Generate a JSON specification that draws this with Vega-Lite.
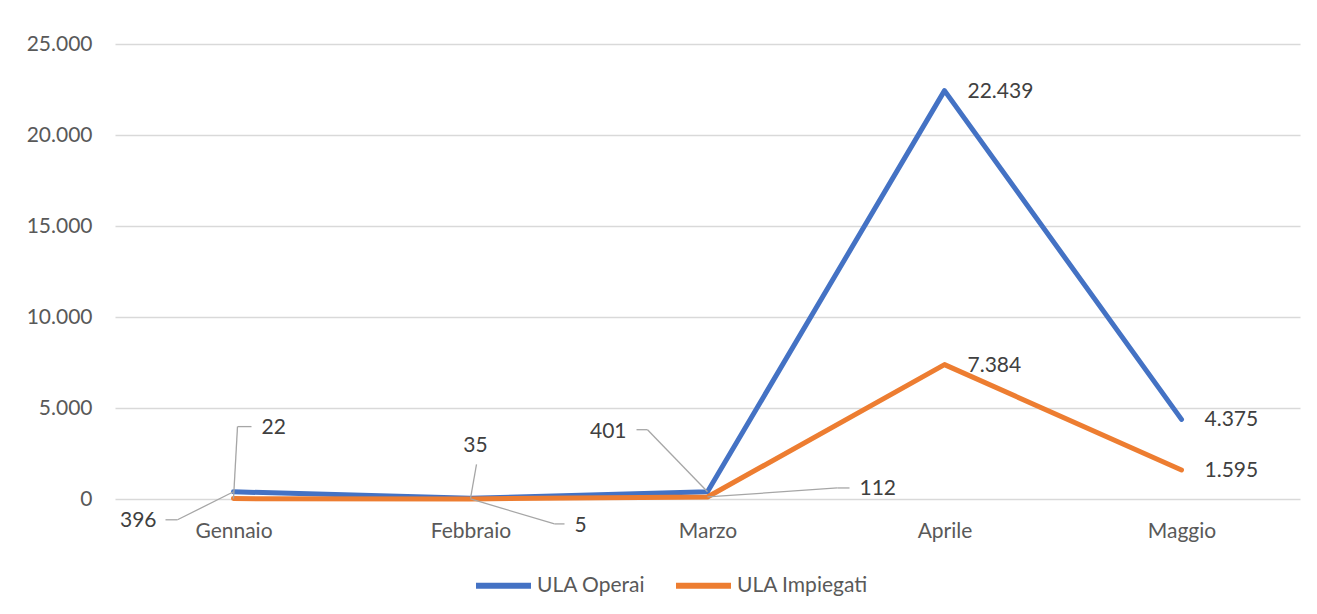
{
  "$schema": "https://vega.github.io/schema/vega-lite/v6.json",
  "width": 1185,
  "height": 455,
  "autosize": {"type": "none"},
  "padding": {"left": 115, "top": 44, "right": 17, "bottom": 115},
  "background": "white",
  "data": {"values": [
    {"mese": "Gennaio", "serie": "ULA Operai", "valore": 396},
    {"mese": "Febbraio", "serie": "ULA Operai", "valore": 35},
    {"mese": "Marzo", "serie": "ULA Operai", "valore": 401},
    {"mese": "Aprile", "serie": "ULA Operai", "valore": 22439},
    {"mese": "Maggio", "serie": "ULA Operai", "valore": 4375},
    {"mese": "Gennaio", "serie": "ULA Impiegati", "valore": 22},
    {"mese": "Febbraio", "serie": "ULA Impiegati", "valore": 5},
    {"mese": "Marzo", "serie": "ULA Impiegati", "valore": 112},
    {"mese": "Aprile", "serie": "ULA Impiegati", "valore": 7384},
    {"mese": "Maggio", "serie": "ULA Impiegati", "valore": 1595}
  ]},
  "encoding": {
    "x": {"field": "mese", "type": "ordinal", "sort": ["Gennaio", "Febbraio", "Marzo", "Aprile", "Maggio"],
      "scale": {"type": "point", "padding": 0.5},
      "axis": {"title": null, "domain": false, "ticks": false, "grid": false, "labelPadding": 21, "labelAngle": 0}},
    "y": {"field": "valore", "type": "quantitative",
      "scale": {"domain": [0, 25000], "nice": false},
      "axis": {"title": null, "values": [0, 5000, 10000, 15000, 20000, 25000], "format": ",d", "domain": false, "ticks": false, "labelPadding": 23, "gridColor": "#d9d9d9", "gridWidth": 1.3}}
  },
  "layer": [
    {
      "mark": {"type": "line", "strokeWidth": 5, "strokeCap": "round", "strokeJoin": "round"},
      "encoding": {
        "color": {"field": "serie", "type": "nominal",
          "scale": {"domain": ["ULA Operai", "ULA Impiegati"], "range": ["#4472C4", "#ED7D31"]},
          "legend": {"title": null, "orient": "none", "direction": "horizontal", "legendX": 358, "legendY": 511,
            "symbolType": "stroke", "symbolSize": 3025, "symbolStrokeWidth": 6, "labelOffset": 3, "columnPadding": 18}}
      }
    },
    {
      "transform": [{"filter": "datum.mese == 'Aprile' || datum.mese == 'Maggio'"}],
      "mark": {"type": "text", "align": "left", "baseline": "middle", "dx": 23, "dy": 1},
      "encoding": {"text": {"field": "valore", "type": "quantitative", "format": ",d"}}
    },
    {
      "transform": [{"filter": "datum.mese == 'Gennaio' && datum.serie == 'ULA Operai'"}],
      "mark": {"type": "text", "align": "right", "baseline": "middle", "dx": -77, "dy": 29},
      "encoding": {"text": {"field": "valore", "type": "quantitative", "format": ",d"}}
    },
    {
      "transform": [{"filter": "datum.mese == 'Gennaio' && datum.serie == 'ULA Operai'"}],
      "mark": {"type": "rule", "color": "#a6a6a6", "strokeWidth": 1.3, "xOffset": 0, "yOffset": 0, "x2Offset": -56, "y2Offset": 28},
      "encoding": {"x2": {"field": "mese"}, "y2": {"field": "valore"}}
    },
    {
      "transform": [{"filter": "datum.mese == 'Gennaio' && datum.serie == 'ULA Operai'"}],
      "mark": {"type": "rule", "color": "#a6a6a6", "strokeWidth": 1.3, "xOffset": -56, "yOffset": 28, "x2Offset": -68, "y2Offset": 28},
      "encoding": {"x2": {"field": "mese"}, "y2": {"field": "valore"}}
    },
    {
      "transform": [{"filter": "datum.mese == 'Gennaio' && datum.serie == 'ULA Impiegati'"}],
      "mark": {"type": "text", "align": "left", "baseline": "middle", "dx": 28, "dy": -71},
      "encoding": {"text": {"field": "valore", "type": "quantitative", "format": ",d"}}
    },
    {
      "transform": [{"filter": "datum.mese == 'Gennaio' && datum.serie == 'ULA Impiegati'"}],
      "mark": {"type": "rule", "color": "#a6a6a6", "strokeWidth": 1.3, "xOffset": 0, "yOffset": 0, "x2Offset": 4, "y2Offset": -72},
      "encoding": {"x2": {"field": "mese"}, "y2": {"field": "valore"}}
    },
    {
      "transform": [{"filter": "datum.mese == 'Gennaio' && datum.serie == 'ULA Impiegati'"}],
      "mark": {"type": "rule", "color": "#a6a6a6", "strokeWidth": 1.3, "xOffset": 4, "yOffset": -72, "x2Offset": 18, "y2Offset": -72},
      "encoding": {"x2": {"field": "mese"}, "y2": {"field": "valore"}}
    },
    {
      "transform": [{"filter": "datum.mese == 'Febbraio' && datum.serie == 'ULA Operai'"}],
      "mark": {"type": "text", "align": "center", "baseline": "middle", "dx": 5, "dy": -52},
      "encoding": {"text": {"field": "valore", "type": "quantitative", "format": ",d"}}
    },
    {
      "transform": [{"filter": "datum.mese == 'Febbraio' && datum.serie == 'ULA Operai'"}],
      "mark": {"type": "rule", "color": "#a6a6a6", "strokeWidth": 1.3, "xOffset": 0, "yOffset": 0, "x2Offset": 6, "y2Offset": -34},
      "encoding": {"x2": {"field": "mese"}, "y2": {"field": "valore"}}
    },
    {
      "transform": [{"filter": "datum.mese == 'Febbraio' && datum.serie == 'ULA Impiegati'"}],
      "mark": {"type": "text", "align": "left", "baseline": "middle", "dx": 104, "dy": 27},
      "encoding": {"text": {"field": "valore", "type": "quantitative", "format": ",d"}}
    },
    {
      "transform": [{"filter": "datum.mese == 'Febbraio' && datum.serie == 'ULA Impiegati'"}],
      "mark": {"type": "rule", "color": "#a6a6a6", "strokeWidth": 1.3, "xOffset": 0, "yOffset": 0, "x2Offset": 84, "y2Offset": 25},
      "encoding": {"x2": {"field": "mese"}, "y2": {"field": "valore"}}
    },
    {
      "transform": [{"filter": "datum.mese == 'Febbraio' && datum.serie == 'ULA Impiegati'"}],
      "mark": {"type": "rule", "color": "#a6a6a6", "strokeWidth": 1.3, "xOffset": 84, "yOffset": 25, "x2Offset": 94, "y2Offset": 25},
      "encoding": {"x2": {"field": "mese"}, "y2": {"field": "valore"}}
    },
    {
      "transform": [{"filter": "datum.mese == 'Marzo' && datum.serie == 'ULA Operai'"}],
      "mark": {"type": "text", "align": "right", "baseline": "middle", "dx": -81, "dy": -60},
      "encoding": {"text": {"field": "valore", "type": "quantitative", "format": ",d"}}
    },
    {
      "transform": [{"filter": "datum.mese == 'Marzo' && datum.serie == 'ULA Operai'"}],
      "mark": {"type": "rule", "color": "#a6a6a6", "strokeWidth": 1.3, "xOffset": 0, "yOffset": 0, "x2Offset": -60, "y2Offset": -62},
      "encoding": {"x2": {"field": "mese"}, "y2": {"field": "valore"}}
    },
    {
      "transform": [{"filter": "datum.mese == 'Marzo' && datum.serie == 'ULA Operai'"}],
      "mark": {"type": "rule", "color": "#a6a6a6", "strokeWidth": 1.3, "xOffset": -60, "yOffset": -62, "x2Offset": -71, "y2Offset": -62},
      "encoding": {"x2": {"field": "mese"}, "y2": {"field": "valore"}}
    },
    {
      "transform": [{"filter": "datum.mese == 'Marzo' && datum.serie == 'ULA Impiegati'"}],
      "mark": {"type": "text", "align": "left", "baseline": "middle", "dx": 152, "dy": -8},
      "encoding": {"text": {"field": "valore", "type": "quantitative", "format": ",d"}}
    },
    {
      "transform": [{"filter": "datum.mese == 'Marzo' && datum.serie == 'ULA Impiegati'"}],
      "mark": {"type": "rule", "color": "#a6a6a6", "strokeWidth": 1.3, "xOffset": 0, "yOffset": 0, "x2Offset": 130, "y2Offset": -9},
      "encoding": {"x2": {"field": "mese"}, "y2": {"field": "valore"}}
    },
    {
      "transform": [{"filter": "datum.mese == 'Marzo' && datum.serie == 'ULA Impiegati'"}],
      "mark": {"type": "rule", "color": "#a6a6a6", "strokeWidth": 1.3, "xOffset": 130, "yOffset": -9, "x2Offset": 142, "y2Offset": -9},
      "encoding": {"x2": {"field": "mese"}, "y2": {"field": "valore"}}
    }
  ],
  "config": {
    "locale": {"number": {"decimal": ",", "thousands": ".", "grouping": [3], "currency": ["€", ""]}},
    "font": "Lato",
    "view": {"stroke": null},
    "axis": {"labelFont": "Lato", "labelFontSize": 21, "labelColor": "#595959"},
    "legend": {"labelFont": "Lato", "labelFontSize": 21, "labelColor": "#595959"},
    "text": {"font": "Lato", "fontSize": 21, "color": "#404040"}
  }
}
